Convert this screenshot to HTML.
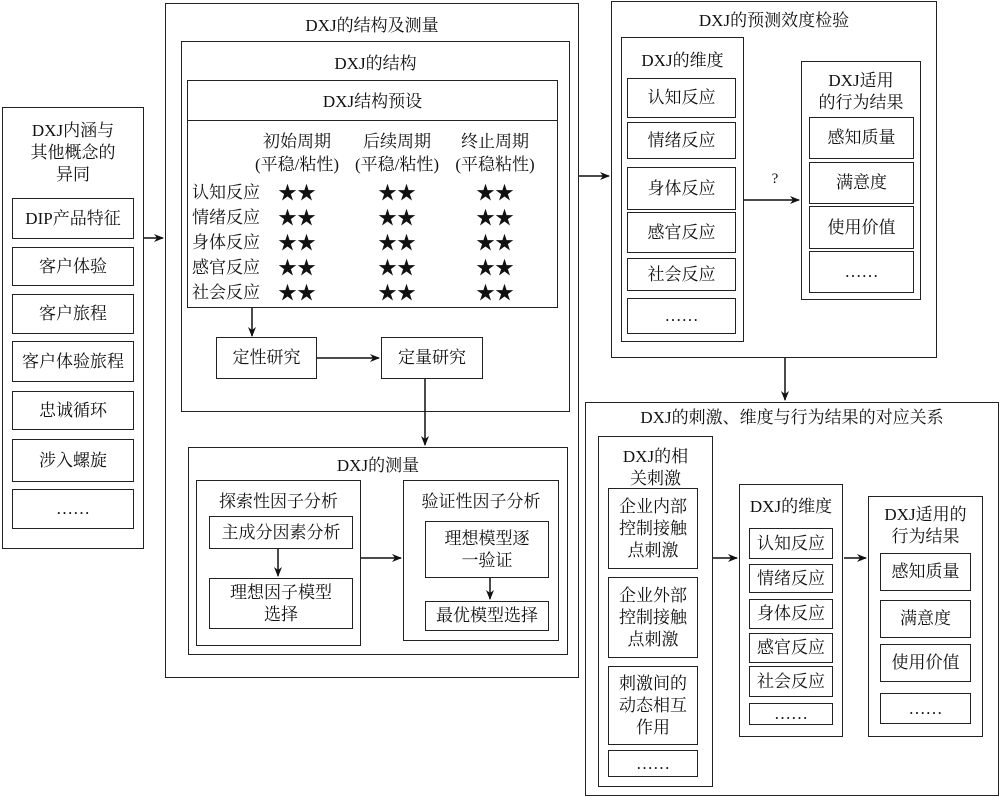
<!DOCTYPE html>
<html><head><meta charset="utf-8"><style>
body{margin:0;width:1000px;height:797px;background:#fff;position:relative;overflow:hidden;font-family:"Liberation Serif","Noto Serif CJK SC",serif;color:#111}
.b{position:absolute;border:1.5px solid #222;box-sizing:border-box}
.t{position:absolute;font-size:17px;line-height:22px;text-align:center;white-space:nowrap}
.c{display:flex;align-items:center;justify-content:center;text-align:center;font-size:17px;line-height:22px;white-space:nowrap}
svg{position:absolute;left:0;top:0}
</style></head><body>
<!-- left column -->
<div class="b" style="left:2px;top:107px;width:142px;height:442px"></div>
<div class="t" style="left:2px;top:120px;width:142px;line-height:22px">DXJ内涵与<br>其他概念的<br>异同</div>
<div class="b c" style="left:12px;top:198px;width:122px;height:41px">DIP产品特征</div>
<div class="b c" style="left:12px;top:247px;width:122px;height:39px">客户体验</div>
<div class="b c" style="left:12px;top:294px;width:122px;height:40px">客户旅程</div>
<div class="b c" style="left:12px;top:341px;width:122px;height:41px">客户体验旅程</div>
<div class="b c" style="left:12px;top:391px;width:122px;height:39px">忠诚循环</div>
<div class="b c" style="left:12px;top:439px;width:122px;height:43px">涉入螺旋</div>
<div class="b c" style="left:12px;top:489px;width:122px;height:40px">……</div>

<!-- middle -->
<div class="b" style="left:165px;top:3px;width:414px;height:675px"></div>
<div class="t" style="left:165px;top:15px;width:414px">DXJ的结构及测量</div>
<div class="b" style="left:181px;top:41px;width:389px;height:371px"></div>
<div class="t" style="left:181px;top:53px;width:389px">DXJ的结构</div>
<div class="b" style="left:187px;top:80px;width:371px;height:228px"></div>
<div class="b" style="left:187px;top:80px;width:371px;height:41px"></div>
<div class="t" style="left:187px;top:91px;width:371px">DXJ结构预设</div>
<div class="t" style="left:247px;top:130px;width:100px;line-height:23px">初始周期<br>(平稳/粘性)</div>
<div class="t" style="left:347px;top:130px;width:100px;line-height:23px">后续周期<br>(平稳/粘性)</div>
<div class="t" style="left:445px;top:130px;width:100px;line-height:23px">终止周期<br>(平稳粘性)</div>
<div class="t" style="left:192px;top:180px;text-align:left;line-height:25px">认知反应<br>情绪反应<br>身体反应<br>感官反应<br>社会反应</div>
<div class="t" style="left:272px;top:181px;width:50px;line-height:25px;font-size:19px">★★<br>★★<br>★★<br>★★<br>★★</div>
<div class="t" style="left:372px;top:181px;width:50px;line-height:25px;font-size:19px">★★<br>★★<br>★★<br>★★<br>★★</div>
<div class="t" style="left:470px;top:181px;width:50px;line-height:25px;font-size:19px">★★<br>★★<br>★★<br>★★<br>★★</div>
<div class="b c" style="left:216px;top:337px;width:101px;height:42px">定性研究</div>
<div class="b c" style="left:381px;top:337px;width:102px;height:42px">定量研究</div>

<div class="b" style="left:188px;top:447px;width:380px;height:208px"></div>
<div class="t" style="left:188px;top:455px;width:380px">DXJ的测量</div>
<div class="b" style="left:196px;top:480px;width:165px;height:166px"></div>
<div class="t" style="left:196px;top:491px;width:165px">探索性因子分析</div>
<div class="b c" style="left:209px;top:516px;width:144px;height:33px">主成分因素分析</div>
<div class="b c" style="left:209px;top:578px;width:144px;height:51px">理想因子模型<br>选择</div>
<div class="b" style="left:403px;top:480px;width:156px;height:161px"></div>
<div class="t" style="left:403px;top:491px;width:156px">验证性因子分析</div>
<div class="b c" style="left:425px;top:521px;width:124px;height:57px">理想模型逐<br>一验证</div>
<div class="b c" style="left:425px;top:601px;width:124px;height:30px">最优模型选择</div>

<!-- top right -->
<div class="b" style="left:611px;top:1px;width:326px;height:357px"></div>
<div class="t" style="left:611px;top:10px;width:326px">DXJ的预测效度检验</div>
<div class="b" style="left:621px;top:37px;width:123px;height:305px"></div>
<div class="t" style="left:621px;top:50px;width:123px">DXJ的维度</div>
<div class="b c" style="left:627px;top:78px;width:109px;height:40px">认知反应</div>
<div class="b c" style="left:627px;top:122px;width:109px;height:37px">情绪反应</div>
<div class="b c" style="left:627px;top:167px;width:109px;height:43px">身体反应</div>
<div class="b c" style="left:627px;top:212px;width:109px;height:41px">感官反应</div>
<div class="b c" style="left:627px;top:258px;width:109px;height:33px">社会反应</div>
<div class="b c" style="left:627px;top:298px;width:109px;height:36px">……</div>
<div class="b" style="left:801px;top:61px;width:120px;height:239px"></div>
<div class="t" style="left:801px;top:70px;width:120px">DXJ适用<br>的行为结果</div>
<div class="b c" style="left:809px;top:117px;width:105px;height:42px">感知质量</div>
<div class="b c" style="left:809px;top:162px;width:105px;height:42px">满意度</div>
<div class="b c" style="left:809px;top:206px;width:105px;height:43px">使用价值</div>
<div class="b c" style="left:809px;top:251px;width:105px;height:42px">……</div>
<div class="t" style="left:765px;top:168px;width:20px;font-size:15px">?</div>

<!-- bottom right -->
<div class="b" style="left:585px;top:402px;width:414px;height:394px"></div>
<div class="t" style="left:585px;top:407px;width:414px">DXJ的刺激、维度与行为结果的对应关系</div>
<div class="b" style="left:598px;top:436px;width:115px;height:351px"></div>
<div class="t" style="left:598px;top:446px;width:115px">DXJ的相<br>关刺激</div>
<div class="b c" style="left:608px;top:488px;width:90px;height:81px">企业内部<br>控制接触<br>点刺激</div>
<div class="b c" style="left:608px;top:577px;width:90px;height:81px">企业外部<br>控制接触<br>点刺激</div>
<div class="b c" style="left:608px;top:666px;width:90px;height:79px">刺激间的<br>动态相互<br>作用</div>
<div class="b c" style="left:608px;top:750px;width:90px;height:27px">……</div>
<div class="b" style="left:739px;top:484px;width:104px;height:253px"></div>
<div class="t" style="left:739px;top:496px;width:104px">DXJ的维度</div>
<div class="b c" style="left:749px;top:528px;width:84px;height:31px">认知反应</div>
<div class="b c" style="left:749px;top:564px;width:84px;height:29px">情绪反应</div>
<div class="b c" style="left:749px;top:599px;width:84px;height:30px">身体反应</div>
<div class="b c" style="left:749px;top:633px;width:84px;height:30px">感官反应</div>
<div class="b c" style="left:749px;top:666px;width:84px;height:31px">社会反应</div>
<div class="b c" style="left:749px;top:703px;width:84px;height:22px">……</div>
<div class="b" style="left:868px;top:496px;width:115px;height:241px"></div>
<div class="t" style="left:868px;top:504px;width:115px">DXJ适用的<br>行为结果</div>
<div class="b c" style="left:880px;top:553px;width:91px;height:38px">感知质量</div>
<div class="b c" style="left:880px;top:600px;width:91px;height:38px">满意度</div>
<div class="b c" style="left:880px;top:644px;width:91px;height:38px">使用价值</div>
<div class="b c" style="left:880px;top:693px;width:91px;height:31px">……</div>

<svg width="1000" height="797">
<defs><marker id="a" markerWidth="10" markerHeight="8" refX="9" refY="4" orient="auto" markerUnits="userSpaceOnUse"><path d="M0,0 L10,4 L0,8 L3,4 Z" fill="#111"/></marker></defs>
<g stroke="#111" stroke-width="1.5" fill="none" marker-end="url(#a)">
<line x1="144" y1="238" x2="163" y2="238"/>
<line x1="252" y1="308" x2="252" y2="336"/>
<line x1="317" y1="358" x2="379" y2="358"/>
<line x1="425" y1="379" x2="425" y2="445"/>
<line x1="278" y1="549" x2="278" y2="576"/>
<line x1="361" y1="558" x2="401" y2="558"/>
<line x1="490" y1="578" x2="490" y2="599"/>
<line x1="579" y1="176" x2="609" y2="176"/>
<line x1="744" y1="200" x2="799" y2="200"/>
<line x1="785" y1="358" x2="785" y2="400"/>
<line x1="713" y1="558" x2="737" y2="558"/>
<line x1="844" y1="558" x2="866" y2="558"/>
</g></svg>
</body></html>
